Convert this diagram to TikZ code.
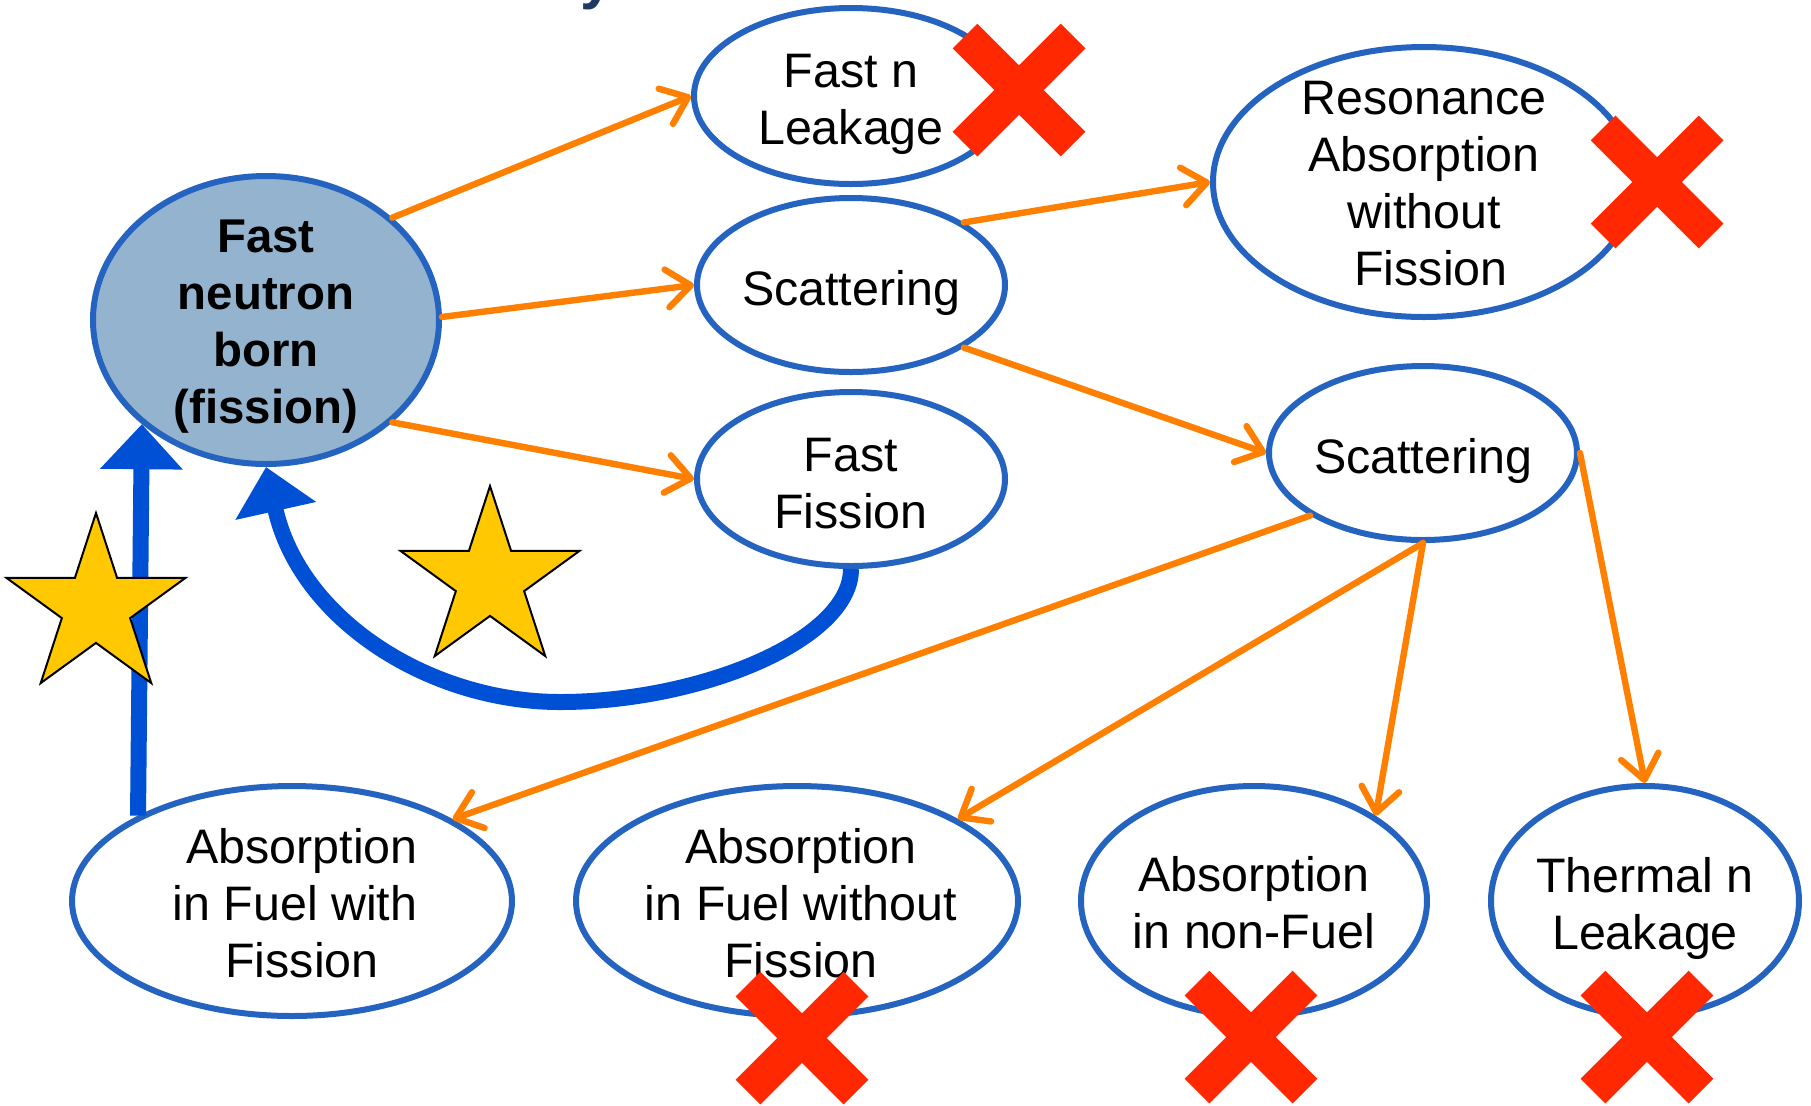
\documentclass[tikz,border=0pt]{standalone}
\usepackage{fontspec}
\setmainfont{Liberation Sans}
\usetikzlibrary{shapes.geometric,arrows.meta}
\definecolor{ebord}{HTML}{2563C0}
\definecolor{efill}{HTML}{93B3CF}
\definecolor{barrow}{HTML}{0050D6}
\definecolor{oarrow}{HTML}{FF8000}
\definecolor{xred}{HTML}{FF2800}
\definecolor{stary}{HTML}{FFC800}
\definecolor{navy}{HTML}{1F3A60}
\begin{document}
\begin{tikzpicture}[x=0.5pt,y=-0.5pt,
  ell/.style={ellipse, draw=ebord, line width=3pt, fill=white, inner sep=0pt},
  txt/.style={align=center, font=\fontsize{24.2}{28.5}\selectfont, inner sep=0pt},
  btxt/.style={txt, font=\fontsize{23.7}{28.5}\selectfont\bfseries},
  oarr/.style={draw=oarrow, line width=3.2pt, line cap=round, -{Straight Barb[length=12pt,width=19pt,round]}},
  barr/.style={draw=barrow, line width=8pt, -{Triangle[length=22.5pt,width=40pt]}},
  xmark/.style={draw=xred, line width=17.5pt},
  starsh/.style={star, star points=5, star point ratio=2.618, inner sep=0pt, fill=stary, draw=black, line width=1pt}
]
\fill[white] (0,0) rectangle (1811,1105);
\useasboundingbox (0,0) rectangle (1811,1105);

% title fragment (cut off at the top edge, as in the reference)
\node[anchor=base west, text=navy, font=\fontsize{30}{30}\selectfont\bfseries, inner sep=0pt] (ttl) at (580,-3) {y};

% ellipses
\node[ell, fill=efill, minimum width=173pt, minimum height=144pt, label={[btxt,name=fnbt,yshift=-3.2pt]center:Fast\\neutron\\born\\(fission)}] (fnb) at (266,320) {};
\node[ell, minimum width=157pt, minimum height=88pt, label={[txt,name=fnlt,yshift=-4pt]center:Fast n\\Leakage}] (fnl) at (851,96) {};
\node[ell, minimum width=154pt, minimum height=87pt, label={[txt,name=sc1t,yshift=-4pt]center:Scattering}] (sc1) at (851,285) {};
\node[ell, minimum width=154pt, minimum height=87pt, label={[txt,name=fft,yshift=-2.3pt]center:Fast\\Fission}] (ff) at (851,479) {};
\node[ell, minimum width=211pt, minimum height=135pt, label={[txt,name=rest,yshift=-0.8pt]center:Resonance\\Absorption\\without\\\hspace*{7pt}Fission}] (res) at (1424,182) {};
\node[ell, minimum width=154pt, minimum height=87pt, label={[txt,name=sc2t,yshift=-4pt]center:Scattering}] (sc2) at (1423,453) {};
\node[ell, minimum width=220pt, minimum height=115pt, label={[txt,name=afwt,yshift=-1pt,xshift=1.5pt]center:\hspace*{7pt}Absorption\\in Fuel with\\\hspace*{7pt}Fission}] (afw) at (292,901) {};
\node[ell, minimum width=221pt, minimum height=115pt, label={[txt,name=afwot,yshift=-1pt,xshift=2pt]center:Absorption\\in Fuel without\\Fission}] (afwo) at (797,901) {};
\node[ell, minimum width=173pt, minimum height=115pt, label={[txt,name=anft,yshift=-1pt]center:Absorption\\in non-Fuel}] (anf) at (1254,901) {};
\node[ell, minimum width=154pt, minimum height=115pt, label={[txt,name=tnlt,yshift=-3.7pt]center:Thermal n\\Leakage}] (tnl) at (1645,901) {};

% orange arrows
\draw[oarr] (fnb.39) -- (fnl.west);
\draw[oarr] (fnb.1) -- (sc1.west);
\draw[oarr] (fnb.-39) -- (ff.west);
\draw[oarr] (sc1.29) -- (res.west);
\draw[oarr] (sc1.-29) -- (sc2.west);
\draw[oarr] (sc2.209) -- (afw.27);
\draw[oarr] (sc2.south) -- (afwo.27);
\draw[oarr] (sc2.south) -- (anf.35);
\draw[oarr] (sc2.east) -- (tnl.north);

% blue arrows
\draw[barr] (afw.151) -- (fnb.220);
\draw[barr] (ff.south) .. controls (851,640) and (700,702) .. (560,702)
            .. controls (430,702) and (300,620) .. (fnb.south);

% stars
\node[starsh, minimum size=94pt] (star1) at (96,607) {};
\node[starsh, minimum size=94pt] (star2) at (490,580) {};

% crosses
\foreach \cx/\cy in {1019/90, 1657/182, 802/1038, 1251/1037, 1647/1037} {
  \draw[xmark] (\cx-54,\cy-54) -- (\cx+54,\cy+54);
  \draw[xmark] (\cx-54,\cy+54) -- (\cx+54,\cy-54);
}
\end{tikzpicture}
\end{document}
